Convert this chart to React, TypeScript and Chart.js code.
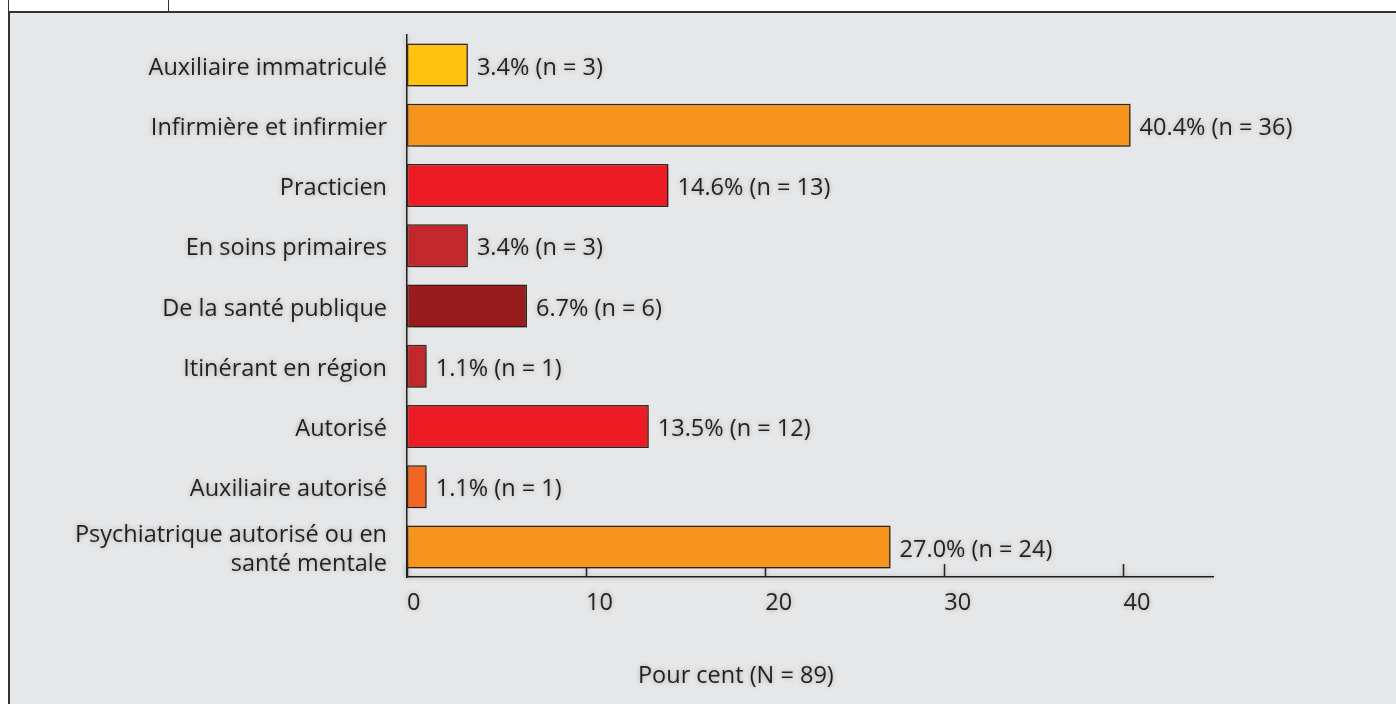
import React, { useEffect, useRef } from 'react';
import { Chart, registerables } from 'chart.js';

Chart.register(...registerables);

const categories: (string | string[])[] = [
  'Auxiliaire immatriculé',
  'Infirmière et infirmier',
  'Practicien',
  'En soins primaires',
  'De la santé publique',
  'Itinérant en région',
  'Autorisé',
  'Auxiliaire autorisé',
  ['Psychiatrique autorisé ou en', 'santé mentale'],
];
const percents = [3.4, 40.4, 14.6, 3.4, 6.7, 1.1, 13.5, 1.1, 27.0];
const counts = [3, 36, 13, 3, 6, 1, 12, 1, 24];
const barColors = ['#FFC20E', '#F7941D', '#ED1C24', '#C1272D', '#981B1E', '#C1272D', '#ED1C24', '#F26522', '#F7941D'];
const xTicks = [0, 10, 20, 30, 40];
const xMax = 45;
const xTitle = 'Pour cent (N = 89)';

const FONT = '"Open Sans", "Noto Sans", sans-serif';
const FS = 23.5;
const TEXT = '#231f20';
const W = 1386;
const H = 691;

const decorPlugin = {
  id: 'decor',
  beforeDraw(chart: any) {
    const c = chart.ctx;
    c.save();
    c.shadowColor = 'rgba(0,0,0,0.28)';
    c.shadowBlur = 5;
  },
  beforeDatasetsDraw(chart: any) {
    const c = chart.ctx;
    const xs = chart.scales.x;
    const y0 = chart.chartArea.bottom;
    c.save();
    c.strokeStyle = TEXT;
    c.lineWidth = 1.5;
    xTicks.forEach((v) => {
      const px = Math.round(xs.getPixelForValue(v)) + 0.5;
      c.beginPath();
      c.moveTo(px, y0);
      c.lineTo(px, y0 - 13);
      c.stroke();
    });
    c.restore();
    c.save();
    c.shadowColor = 'rgba(0,0,0,0.45)';
    c.shadowBlur = 9;
    c.shadowOffsetX = 2;
    c.shadowOffsetY = 2;
  },
  afterDatasetsDraw(chart: any) {
    const c = chart.ctx;
    c.restore();
    const meta = chart.getDatasetMeta(0);
    c.save();
    c.font = `${FS}px ${FONT}`;
    c.fillStyle = TEXT;
    c.textAlign = 'left';
    c.textBaseline = 'middle';
    meta.data.forEach((bar: any, i: number) => {
      c.fillText(`${percents[i].toFixed(1)}% (n = ${counts[i]})`, bar.x + 9, bar.y + 3);
    });
    c.restore();
  },
  afterDraw(chart: any) {
    const c = chart.ctx;
    const ca = chart.chartArea;
    c.save();
    c.font = `${FS}px ${FONT}`;
    c.fillStyle = TEXT;
    c.textAlign = 'center';
    c.textBaseline = 'middle';
    c.fillText(xTitle, ca.left + ca.width * 0.408, 663);
    c.restore();
    c.restore();
  },
};

export default function App() {
  const ref = useRef<HTMLCanvasElement>(null);
  useEffect(() => {
    if (!ref.current) return;
    const chart = new Chart(ref.current, {
      type: 'bar',
      data: {
        labels: categories as any,
        datasets: [
          {
            data: percents,
            backgroundColor: barColors,
            borderColor: '#3b2a1e',
            borderWidth: 1.5,
            borderSkipped: false,
            barPercentage: 0.714,
            categoryPercentage: 1,
          },
        ],
      },
      options: {
        indexAxis: 'y',
        responsive: false,
        animation: false,
        layout: { padding: { top: 22, right: W - 1203, left: 0, bottom: 0 } },
        plugins: { legend: { display: false }, tooltip: { enabled: false }, title: { display: false } },
        scales: {
          x: {
            type: 'linear',
            min: 0,
            max: xMax,
            afterBuildTicks: (s: any) => {
              s.ticks = xTicks.map((v) => ({ value: v }));
            },
            afterFit: (s: any) => {
              s.height = H - 564;
              s.paddingLeft = 0;
              s.paddingRight = 0;
            },
            grid: { display: false },
            border: { display: true, color: TEXT, width: 1.5 },
            ticks: {
              align: 'start',
              padding: 4,
              color: TEXT,
              font: { family: FONT, size: FS },
            },
          },
          y: {
            type: 'category',
            afterFit: (s: any) => {
              s.width = 397;
              s.paddingTop = 0;
              s.paddingBottom = 0;
            },
            grid: { display: false },
            border: { display: true, color: TEXT, width: 1.5 },
            ticks: {
              autoSkip: false,
              padding: 12,
              labelOffset: 3,
              color: TEXT,
              font: { family: FONT, size: FS, lineHeight: 1.25 },
            },
          },
        },
      },
      plugins: [decorPlugin],
    } as any);
    return () => chart.destroy();
  }, []);

  return (
    <div style={{ position: 'fixed', left: 0, top: 0, width: 1396, height: 704, background: '#ffffff', overflow: 'hidden' }}>
      <div
        style={{
          position: 'absolute',
          left: 8,
          top: 0,
          width: 161,
          height: 12,
          borderLeft: '1.5px solid #333',
          borderRight: '1px solid #333',
          boxSizing: 'border-box',
        }}
      />
      <div
        style={{
          position: 'absolute',
          left: 8,
          top: 11,
          width: 1388,
          height: 693,
          background: '#e6e7e8',
          borderLeft: '2px solid #333',
          borderTop: '2px solid #333',
          boxSizing: 'border-box',
        }}
      >
        <canvas ref={ref} width={W} height={H} style={{ display: 'block', width: W, height: H }} />
      </div>
    </div>
  );
}
